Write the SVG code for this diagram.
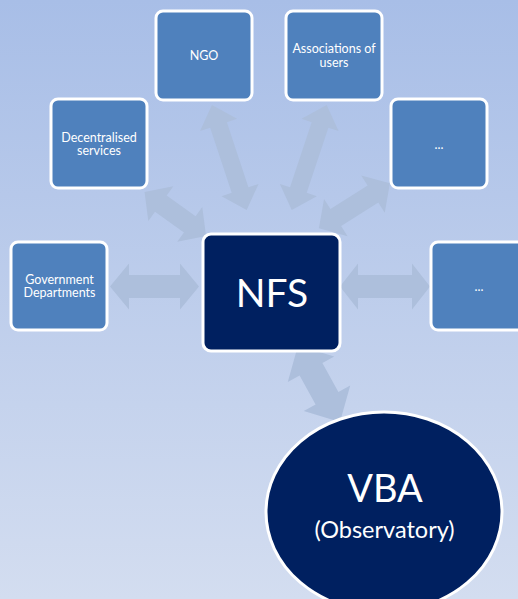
<svg xmlns="http://www.w3.org/2000/svg" width="518" height="599" viewBox="0 0 518 599">
<defs>
<linearGradient id="bg" x1="0" y1="0" x2="0" y2="1">
<stop offset="0" stop-color="#a8bee7"/>
<stop offset="1" stop-color="#d3ddf0"/>
</linearGradient>
</defs>
<style>
.arrow{fill:#adbfdc}
.box{fill:#4f81bd;stroke:#fff;stroke-width:3}
.dark{fill:#002060;stroke:#fff;stroke-width:3}
.lbl{font-family:Lato,"Open Sans",sans-serif;font-size:12.5px;fill:#fff;text-anchor:middle}
.big{font-family:Lato,"Open Sans",sans-serif;fill:#fff;text-anchor:middle}
</style>
<rect x="0" y="0" width="518" height="599" fill="url(#bg)"/>
<g id="connectors">
<path class="arrow" transform="translate(154.5,286.5)" d="M-44.5,0 L-25.5,-23 L-25.5,-11.5 L25.5,-11.5 L25.5,-23 L44.5,0 L25.5,23 L25.5,11.5 L-25.5,11.5 L-25.5,23 Z"/>
<path class="arrow" transform="translate(385,286.5)" d="M-45,0 L-27,-23 L-27,-11.5 L27,-11.5 L27,-23 L45,0 L27,23 L27,11.5 L-27,11.5 L-27,23 Z"/>
<path class="arrow" transform="translate(175.3,214) rotate(35.6)" d="M-37.8,0 L-17.8,-21.5 L-17.8,-10 L17.8,-10 L17.8,-21.5 L37.8,0 L17.8,21.5 L17.8,10 L-17.8,10 L-17.8,21.5 Z"/>
<path class="arrow" transform="translate(229.3,157.5) rotate(71.7)" d="M-55.3,0 L-34.3,-19.5 L-34.3,-8.8 L34.3,-8.8 L34.3,-19.5 L55.3,0 L34.3,19.5 L34.3,8.8 L-34.3,8.8 L-34.3,19.5 Z"/>
<path class="arrow" transform="translate(309.2,157.5) rotate(108.4)" d="M-55.3,0 L-34.3,-19.5 L-34.3,-8.8 L34.3,-8.8 L34.3,-19.5 L55.3,0 L34.3,19.5 L34.3,8.8 L-34.3,8.8 L-34.3,19.5 Z"/>
<path class="arrow" transform="translate(354.4,205.8) rotate(147.7)" d="M-42,0 L-22,-22 L-22,-10 L22,-10 L22,-22 L42,0 L22,22 L22,10 L-22,10 L-22,22 Z"/>
<path class="arrow" transform="translate(319,383.8) rotate(61.2)" d="M-43.6,0 L-16.6,-26.5 L-16.6,-13 L16.6,-13 L16.6,-26.5 L43.6,0 L16.6,26.5 L16.6,13 L-16.6,13 L-16.6,26.5 Z"/>
</g>
<g id="ngo">
<rect class="box" x="156" y="11" width="96" height="89" rx="7"/>
<text class="lbl" x="204" y="60">NGO</text>
</g>
<g id="associations">
<rect class="box" x="286" y="11" width="96" height="89" rx="7"/>
<text class="lbl" x="334" y="53">Associations of</text>
<text class="lbl" x="334" y="66.5">users</text>
</g>
<g id="decentralised">
<rect class="box" x="51" y="99" width="96" height="89" rx="7"/>
<text class="lbl" x="99" y="141.5">Decentralised</text>
<text class="lbl" x="99" y="155">services</text>
</g>
<g id="other-top">
<rect class="box" x="391" y="99" width="96" height="89" rx="7"/>
<text class="lbl" x="439" y="149">...</text>
</g>
<g id="government">
<rect class="box" x="11" y="242" width="96" height="88" rx="7"/>
<text class="lbl" x="59.5" y="283.5">Government</text>
<text class="lbl" x="59.5" y="297">Departments</text>
</g>
<g id="other-right">
<rect class="box" x="431" y="242" width="96" height="88" rx="7"/>
<text class="lbl" x="479" y="291">...</text>
</g>
<g id="nfs">
<rect class="dark" x="203" y="234" width="137" height="117" rx="8"/>
<text class="big" x="272" y="307" font-size="39">NFS</text>
</g>
<g id="vba">
<ellipse class="dark" cx="384" cy="512" rx="118" ry="100"/>
<text class="big" x="385" y="502" font-size="38">VBA</text>
<text class="big" x="384.5" y="538" font-size="23.5">(Observatory)</text>
</g>
</svg>
